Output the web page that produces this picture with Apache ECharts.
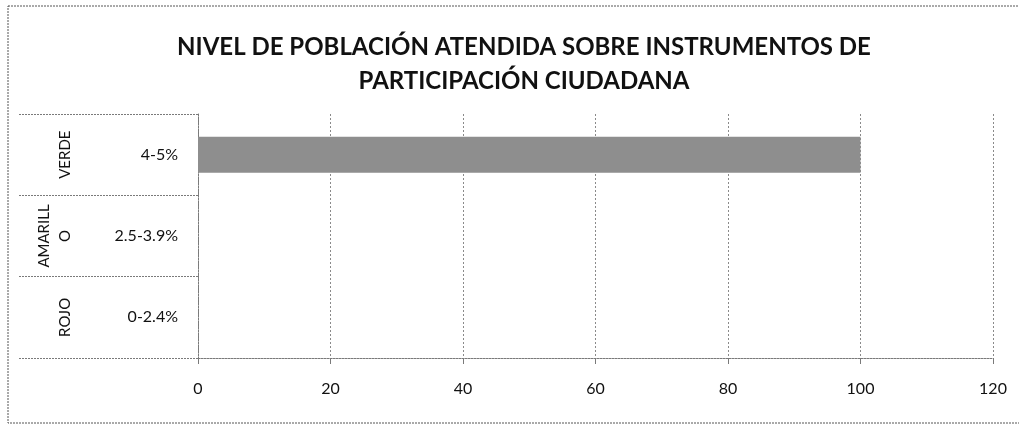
<!DOCTYPE html>
<html>
<head>
<meta charset="utf-8">
<title>Nivel de población atendida</title>
<script src="https://cdn.jsdelivr.net/npm/echarts@6/dist/echarts.min.js"></script>
<style>
  html, body { margin: 0; padding: 0; background: #fff; }
  #main { width: 1019px; height: 429px; }
</style>
</head>
<body>
<div id="main"></div>
<script>
// datos del gráfico
var titulo = "NIVEL DE POBLACIÓN ATENDIDA SOBRE INSTRUMENTOS DE\nPARTICIPACIÓN CIUDADANA";
var niveles = ["VERDE", "AMARILLO", "ROJO"];      // nivel exterior
var rangos = ["4-5%", "2.5-3.9%", "0-2.4%"];       // nivel interior
var valores = [100, 0, 0];
var ejeMin = 0, ejeMax = 120, ejeIntervalo = 20;

var fuente = "Lato, 'Open Sans', sans-serif";
var gris = "#7a7a7a";

var myChart = echarts.init(document.getElementById("main"));

var option = {
  backgroundColor: "#fff",
  animation: false,
  aria: { enabled: true, decal: { show: true } },
  title: {
    text: titulo,
    left: 524,
    top: 30,
    padding: 0,
    textAlign: "center",
    textStyle: {
      fontFamily: fuente,
      fontSize: 24,
      fontWeight: "bold",
      color: "#111",
      lineHeight: 34
    }
  },
  // borde del área del gráfico (cortado a la derecha como en el escaneo)
  graphic: [{
    type: "rect",
    shape: { x: 8, y: 6, width: 1040, height: 417 },
    style: { fill: "none", stroke: "#555", lineWidth: 1, lineDash: [2, 1] },
    silent: true
  }],
  grid: {
    left: 198,
    right: 26,
    top: 114,
    bottom: 71
  },
  xAxis: {
    type: "value",
    min: ejeMin,
    max: ejeMax,
    interval: ejeIntervalo,
    axisLine: { show: true, lineStyle: { color: gris, type: [2, 1] } },
    axisTick: { show: true, length: 6, lineStyle: { color: gris } },
    axisLabel: {
      margin: 23,
      fontFamily: fuente,
      fontSize: 16,
      color: "#111"
    },
    splitLine: { show: true, lineStyle: { color: "#8a8a8a", type: [2, 2] } }
  },
  yAxis: [
    {
      type: "category",
      data: rangos,
      inverse: true,
      axisLine: { show: true, lineStyle: { color: gris, type: [2, 1] } },
      // las marcas largas hacen de separadores entre niveles
      axisTick: { show: true, length: 180, lineStyle: { color: gris, type: [2, 1] } },
      axisLabel: {
        interval: 0,
        margin: 20,
        fontFamily: fuente,
        fontSize: 16,
        color: "#111"
      }
    },
    {
      type: "category",
      data: niveles,
      inverse: true,
      position: "left",
      offset: 114,
      axisLine: { show: false },
      axisTick: { show: false },
      axisLabel: {
        interval: 0,
        margin: 8,
        rotate: 90,
        align: "center",
        verticalAlign: "bottom",
        lineHeight: 21,
        width: 66,
        overflow: "breakAll",
        fontFamily: fuente,
        fontSize: 15,
        color: "#111"
      }
    }
  ],
  series: [
    {
      type: "bar",
      yAxisIndex: 0,
      data: valores,
      barWidth: 36,
      itemStyle: {
        color: "#8e8e8e",
        decal: {
          symbol: "none",
          dashArrayX: [1, 0],
          dashArrayY: [1, 2],
          rotation: -Math.PI / 4,
          color: "rgba(40,40,40,0.35)"
        }
      }
    }
  ]
};

myChart.setOption(option);
</script>
</body>
</html>
